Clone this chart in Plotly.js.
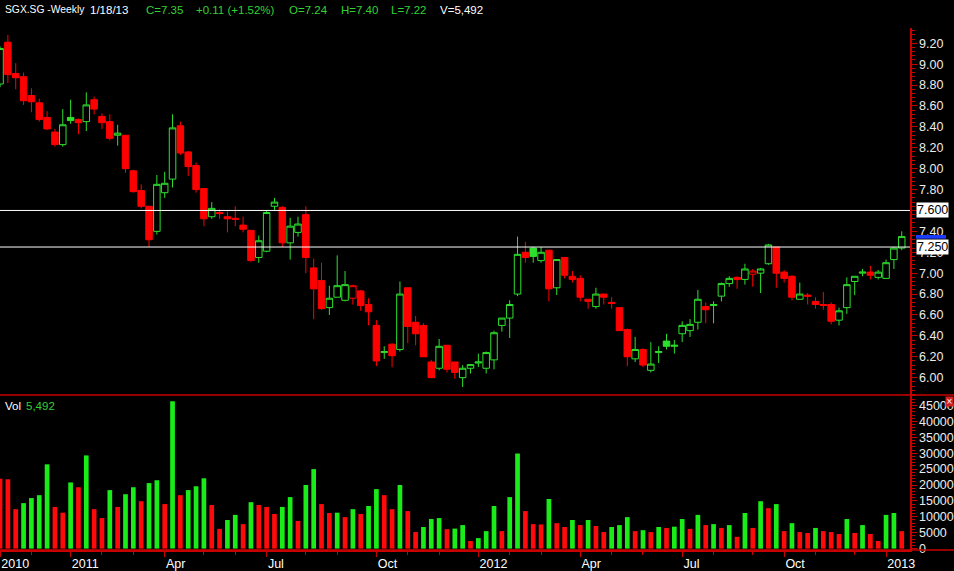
<!DOCTYPE html>
<html><head><meta charset="utf-8">
<script src="https://cdn.plot.ly/plotly-3.0.1.min.js"></script>
<style>html,body{margin:0;padding:0;background:#000;}#chart{width:954px;height:571px;}</style>
</head><body><div id="chart"></div>
<script>
// ---- data (weekly, week ending Friday) ----
const weeks = [
"2010-11-05","2010-11-12","2010-11-19","2010-11-26","2010-12-03","2010-12-10","2010-12-17","2010-12-24","2010-12-31",
"2011-01-07","2011-01-14","2011-01-21","2011-01-28","2011-02-04","2011-02-11","2011-02-18","2011-02-25",
"2011-03-04","2011-03-11","2011-03-18","2011-03-25","2011-04-01","2011-04-08","2011-04-15","2011-04-22","2011-04-29",
"2011-05-06","2011-05-13","2011-05-20","2011-05-27","2011-06-03","2011-06-10","2011-06-17","2011-06-24",
"2011-07-01","2011-07-08","2011-07-15","2011-07-22","2011-07-29","2011-08-05","2011-08-12","2011-08-19","2011-08-26",
"2011-09-02","2011-09-09","2011-09-16","2011-09-23","2011-09-30","2011-10-07","2011-10-14","2011-10-21","2011-10-28",
"2011-11-04","2011-11-11","2011-11-18","2011-11-25","2011-12-02","2011-12-09","2011-12-16","2011-12-23","2011-12-30",
"2012-01-06","2012-01-13","2012-01-20","2012-01-27","2012-02-03","2012-02-10","2012-02-17","2012-02-24",
"2012-03-02","2012-03-09","2012-03-16","2012-03-23","2012-03-30","2012-04-06","2012-04-13","2012-04-20","2012-04-27",
"2012-05-04","2012-05-11","2012-05-18","2012-05-25","2012-06-01","2012-06-08","2012-06-15","2012-06-22","2012-06-29",
"2012-07-06","2012-07-13","2012-07-20","2012-07-27","2012-08-03","2012-08-10","2012-08-17","2012-08-24","2012-08-31",
"2012-09-07","2012-09-14","2012-09-21","2012-09-28","2012-10-05","2012-10-12","2012-10-19","2012-10-26",
"2012-11-02","2012-11-09","2012-11-16","2012-11-23","2012-11-30","2012-12-07","2012-12-14","2012-12-21","2012-12-28",
"2013-01-04","2013-01-11","2013-01-18"];

const open = [
8.81,9.21,8.91,8.88,8.70,8.63,8.49,8.35,8.23,8.49,8.47,8.45,8.66,8.50,8.45,8.32,8.32,7.98,7.79,7.64,
7.40,7.77,7.90,8.41,8.16,8.03,7.81,7.54,7.58,7.54,7.525,7.46,7.41,7.15,7.21,7.64,7.63,7.29,7.39,7.56,
7.05,6.93,6.67,6.77,6.74,6.76,6.83,6.70,6.50,6.24,6.32,6.27,6.86,6.53,6.50,6.15,6.09,6.31,6.15,6.00,
6.09,6.14,6.09,6.17,6.50,6.57,6.80,7.20,7.24,7.12,7.22,6.86,7.15,6.97,6.95,6.75,6.68,6.80,6.72,6.67,
6.46,6.18,6.27,6.07,6.24,6.35,6.30,6.42,6.45,6.53,6.68,6.69,6.78,6.90,6.96,6.94,6.99,7.00,7.09,7.25,
7.01,6.97,6.75,6.79,6.73,6.70,6.70,6.55,6.67,6.92,7.00,7.01,6.96,6.95,7.13,7.24];
const high = [
9.17,9.28,9.01,8.92,8.77,8.67,8.55,8.38,8.57,8.66,8.48,8.73,8.69,8.53,8.52,8.42,8.32,7.99,7.85,7.64,
7.94,7.97,8.52,8.45,8.17,8.06,7.81,7.68,7.61,7.59,7.64,7.54,7.41,7.36,7.60,7.72,7.64,7.53,7.54,7.64,
7.14,7.10,6.88,7.17,7.02,6.89,6.84,6.76,6.55,6.30,6.33,6.92,6.86,6.59,6.52,6.17,6.37,6.31,6.15,6.12,
6.13,6.23,6.25,6.45,6.57,6.74,7.35,7.30,7.25,7.25,7.22,7.13,7.15,7.02,6.98,6.75,6.86,6.80,6.77,6.67,
6.47,6.39,6.28,6.34,6.30,6.42,6.36,6.54,6.56,6.84,6.72,6.73,6.91,6.97,6.97,7.09,7.04,7.05,7.28,7.25,
7.03,6.98,6.91,6.81,6.77,6.82,6.72,6.67,6.96,6.97,7.04,7.07,7.03,7.13,7.25,7.40];
const low = [
8.78,8.82,8.76,8.61,8.54,8.45,8.37,8.21,8.21,8.43,8.33,8.36,8.52,8.38,8.27,8.22,7.96,7.77,7.62,7.25,
7.37,7.72,7.82,8.13,7.93,7.77,7.45,7.52,7.52,7.39,7.45,7.39,7.11,7.10,7.20,7.60,7.25,7.13,7.35,7.00,
6.56,6.65,6.60,6.77,6.73,6.70,6.64,6.50,6.11,6.18,6.10,6.25,6.33,6.31,6.20,6.00,6.07,6.05,5.99,5.91,
6.04,6.10,6.04,6.08,6.44,6.38,6.78,7.10,7.10,7.10,6.73,6.79,6.95,6.91,6.73,6.66,6.66,6.70,6.66,6.45,
6.11,6.15,6.10,6.05,6.14,6.27,6.23,6.34,6.39,6.46,6.52,6.52,6.73,6.87,6.85,6.89,6.87,6.81,7.08,6.86,
6.91,6.74,6.75,6.70,6.66,6.65,6.51,6.50,6.61,6.79,6.97,6.94,6.94,6.95,7.04,7.22];
const close = [
9.15,8.90,8.87,8.65,8.64,8.47,8.38,8.23,8.42,8.46,8.44,8.61,8.57,8.44,8.29,8.34,8.00,7.78,7.64,7.32,
7.85,7.86,8.39,8.15,8.02,7.80,7.52,7.62,7.57,7.52,7.515,7.42,7.12,7.31,7.58,7.68,7.29,7.45,7.47,7.15,
6.85,6.66,6.76,6.88,6.89,6.88,6.69,6.63,6.16,6.25,6.21,6.80,6.49,6.42,6.20,6.00,6.30,6.08,6.05,6.09,
6.125,6.15,6.24,6.43,6.57,6.70,7.18,7.15,7.16,7.20,6.85,7.13,6.98,6.94,6.77,6.73,6.80,6.77,6.71,6.45,
6.20,6.27,6.12,6.13,6.25,6.30,6.31,6.50,6.51,6.75,6.65,6.70,6.90,6.95,6.94,7.04,7.02,7.04,7.27,7.00,
6.95,6.77,6.80,6.78,6.70,6.69,6.54,6.64,6.89,6.97,7.01,6.98,7.01,7.10,7.24,7.35];
const volume = [
22000,21800,12400,14300,15900,16800,26500,13100,11300,20800,19300,29300,12400,9600,18400,13100,17100,19300,14900,20600,
21500,14000,46300,16800,18400,19600,22100,13700,6200,9000,10600,7700,14600,13700,13100,10900,13100,16200,8700,20000,
25000,14000,11200,11300,9900,12400,10900,13400,18700,16800,12400,20000,11800,5200,6800,9300,9600,6100,6300,7400,
2400,3300,5500,13400,5500,16200,29900,11800,7700,7600,15600,8000,6800,9000,7400,9000,7100,5200,6800,7400,
9900,5500,5800,5200,6800,6500,6900,9300,6200,10600,7400,7700,6500,7400,3700,11200,6500,14900,12700,14000,
5500,8000,5200,4900,6500,5500,5200,4600,9300,4900,7400,4600,2400,10600,11200,5492];

const levels = [7.600, 7.250];
const levelLabels = ["7.600", "7.250"];
const monthNames = ["Jan","Feb","Mar","Apr","May","Jun","Jul","Aug","Sep","Oct","Nov","Dec"];
const headerWhite = [["SGX.SG -Weekly", 3, 10.3], ["1/18/13", 88, 11.5], ["V=5,492", 438, 11.5]];
const headerGreen = [["C=7.35", 144], ["+0.11 (+1.52%)", 194], ["O=7.24", 287], ["H=7.40", 339], ["L=7.22", 389]];

// ---- styling ----
const AX = '#c80000', GREEN = '#2ee02e', RED = '#ff0000', VGREEN = '#19ec19', VRED = '#ff0a0a', TXT = '#ececec';
const W = 954, H = 571, PL = 0, PR = 910, PT = 28, PB = 550, SEP = 395;
const plotW = PR - PL, plotH = PB - PT;
const volFrac = (PB - SEP) / plotH;
const px = x => (x - PL) / plotW;
const py = y => (PB - y) / plotH;

// candle groups: colour by close vs previous close, fill by close < open
const upIdx = [], dnIdx = [];
close.forEach((c, i) => { (i === 0 || c > close[i - 1]) ? upIdx.push(i) : dnIdx.push(i); });
const pick = (a, idx) => idx.map(i => a[i]);
function candle(idx, color) {
  return {
    type: 'candlestick', x: pick(weeks, idx),
    open: pick(open, idx), high: pick(high, idx), low: pick(low, idx), close: pick(close, idx),
    increasing: { line: { color: color, width: 1 }, fillcolor: '#000000' },
    decreasing: { line: { color: color, width: 1 }, fillcolor: color },
    whiskerwidth: 0, hoverinfo: 'skip', showlegend: false, xaxis: 'x', yaxis: 'y'
  };
}
const volColors = volume.map((v, i) => (i > 0 && v > volume[i - 1]) ? VGREEN : VRED);
const volTrace = {
  type: 'bar', x: weeks, y: volume, marker: { color: volColors, line: { width: 0 } },
  hoverinfo: 'skip', showlegend: false, xaxis: 'x', yaxis: 'y2'
};

// ticks at the week where a new month starts
const tickvals = [], ticktext = [], minorvals = [];
weeks.forEach((d, i) => {
  const m = parseInt(d.slice(5, 7), 10) - 1;
  const pm = i > 0 ? parseInt(weeks[i - 1].slice(5, 7), 10) - 1 : -1;
  if (i === 0) { tickvals.push(d); ticktext.push(d.slice(0, 4)); return; }
  if (m !== pm) {
    if (m % 3 === 0) { tickvals.push(d); ticktext.push(m === 0 ? d.slice(0, 4) : monthNames[m]); }
    else minorvals.push(d);
  }
});

const shapes = [];
levels.forEach(lv => shapes.push({ type: 'line', xref: 'paper', x0: 0, x1: 1, yref: 'y', y0: lv, y1: lv, line: { color: '#ffffff', width: 1 } }));
shapes.push({ type: 'line', xref: 'paper', x0: 0, x1: W / plotW, yref: 'paper', y0: volFrac, y1: volFrac, line: { color: AX, width: 1.5 } });
shapes.push({ type: 'line', xref: 'paper', x0: 0, x1: W / plotW, yref: 'paper', y0: 0, y1: 0, line: { color: AX, width: 1.5 } });
// current price marker (mostly hidden behind level label)
const lastClose = close[close.length - 1];
shapes.push({ type: 'rect', xref: 'paper', x0: px(916), x1: px(946), yref: 'y', y0: lastClose - 0.02, y1: lastClose + 0.015, fillcolor: '#1a3cff', line: { width: 0 } });

const annotations = [];
const FAM = 'Liberation Sans, Arial, sans-serif';
headerWhite.forEach(([t, x, s]) => annotations.push({ xref: 'paper', yref: 'paper', x: px(x), y: py(10), xanchor: 'left', yanchor: 'middle', text: t, showarrow: false, font: { family: FAM, size: s, color: '#ffffff' } }));
headerGreen.forEach(([t, x]) => annotations.push({ xref: 'paper', yref: 'paper', x: px(x), y: py(10), xanchor: 'left', yanchor: 'middle', text: t, showarrow: false, font: { family: FAM, size: 11.5, color: '#33d133' } }));
annotations.push({ xref: 'paper', yref: 'paper', x: px(3), y: py(406), xanchor: 'left', yanchor: 'middle', text: 'Vol', showarrow: false, font: { family: FAM, size: 11.5, color: '#ffffff' } });
annotations.push({ xref: 'paper', yref: 'paper', x: px(24), y: py(406), xanchor: 'left', yanchor: 'middle', text: '5,492', showarrow: false, font: { family: FAM, size: 11.5, color: '#33d133' } });
levels.forEach((lv, i) => annotations.push({ xref: 'paper', yref: 'y', x: px(916), y: lv, xanchor: 'left', yanchor: 'middle', text: levelLabels[i], showarrow: false, bgcolor: '#ffffff', borderpad: 0, font: { family: FAM, size: 12.5, color: '#000000' } }));
annotations.push({ xref: 'paper', yref: 'paper', x: px(949), y: py(401), xanchor: 'center', yanchor: 'middle', text: '×', showarrow: false, bgcolor: '#d02020', borderpad: 0, font: { family: 'DejaVu Sans, sans-serif', size: 8, color: '#ffffff' } });

const axisCommon = {
  showgrid: false, zeroline: false, showline: true, linecolor: AX, linewidth: 1.5,
  ticks: 'outside', ticklen: 5, tickcolor: AX, tickwidth: 1,
  tickfont: { family: FAM, size: 12.5, color: TXT }, fixedrange: true
};

const layout = {
  width: W, height: H, margin: { l: PL, r: W - PR, t: PT, b: H - PB, pad: 0 },
  paper_bgcolor: '#000000', plot_bgcolor: '#000000', showlegend: false, hovermode: false, dragmode: false,
  boxgap: 0.17, boxgroupgap: 0, bargap: 0.4,
  xaxis: Object.assign({}, axisCommon, {
    type: 'date', anchor: 'y2', range: ['2010-11-04 23:00', '2013-01-25 09:00'],
    rangeslider: { visible: false }, tickmode: 'array', tickvals: tickvals, ticktext: ticktext,
    ticklabelposition: 'outside right', ticklabelstandoff: 1,
    tickfont: { family: FAM, size: 12.5, color: '#ffffff' },
    minor: { tickvals: minorvals, ticks: 'outside', ticklen: 3, tickcolor: AX, showgrid: false }
  }),
  yaxis: Object.assign({}, axisCommon, {
    domain: [volFrac, 1], side: 'right', anchor: 'x', range: [5.834, 9.346],
    tick0: 0, dtick: 0.2, tickformat: '.2f',
    minor: { dtick: 0.04, ticks: 'outside', ticklen: 3, tickcolor: AX, showgrid: false }
  }),
  yaxis2: Object.assign({}, axisCommon, {
    domain: [0, volFrac], side: 'right', anchor: 'x', range: [-440, 48300],
    tick0: 0, dtick: 5000, tickformat: 'd',
    minor: { dtick: 1000, ticks: 'outside', ticklen: 3, tickcolor: AX, showgrid: false }
  }),
  shapes: shapes, annotations: annotations
};

Plotly.newPlot('chart', [volTrace, candle(upIdx, GREEN), candle(dnIdx, RED)], layout, { staticPlot: true, displayModeBar: false });
</script></body></html>
